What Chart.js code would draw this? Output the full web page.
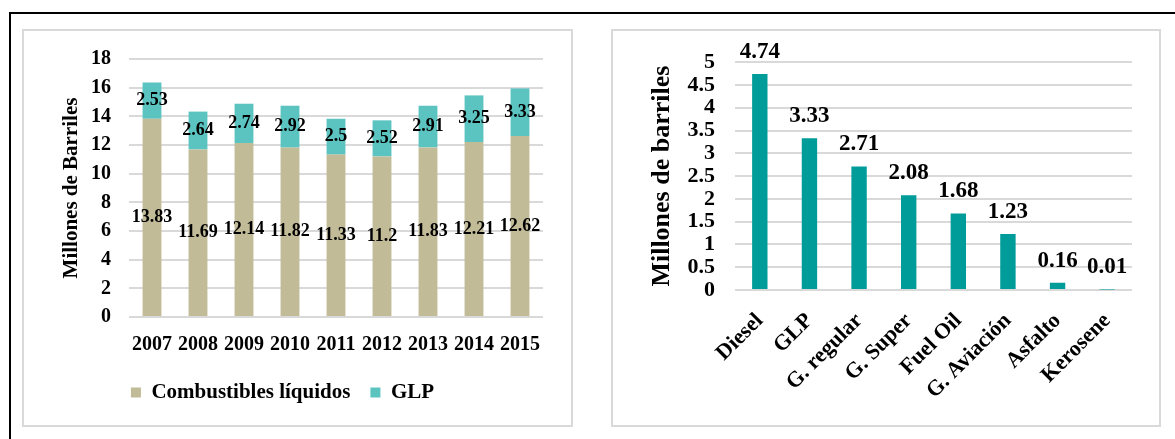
<!DOCTYPE html>
<html lang="es">
<head>
<meta charset="utf-8">
<title>Consumo de combustibles</title>
<script src="https://cdn.jsdelivr.net/npm/chart.js@4.4.1/dist/chart.umd.min.js"></script>
<style>
  html, body { margin: 0; padding: 0; background: #ffffff; }
  body { width: 1175px; height: 439px; position: relative; overflow: hidden; }
  .rule-top { position: absolute; left: 9px; top: 12px; width: 1166px; height: 2px; background: #000; }
  .rule-left { position: absolute; left: 9px; top: 12px; width: 2px; height: 427px; background: #000; }
  .panel { position: absolute; box-sizing: border-box; border: 2px solid #d9d9d9; background: #fff; }
  canvas { position: absolute; }
</style>
</head>
<body>
<div class="rule-top"></div>
<div class="rule-left"></div>
<div class="panel" style="left:22px;top:29px;width:551px;height:398px;"></div>
<div class="panel" style="left:611px;top:29px;width:550px;height:398px;"></div>
<canvas id="anual" width="551" height="398" style="left:22px;top:29px;"></canvas>
<canvas id="productos" width="550" height="398" style="left:611px;top:29px;"></canvas>
<script>
// Producción anual (millones de barriles), apilada por tipo
const years = ['2007', '2008', '2009', '2010', '2011', '2012', '2013', '2014', '2015'];
const liquidos = [13.83, 11.69, 12.14, 11.82, 11.33, 11.2, 11.83, 12.21, 12.62];
const glp = [2.53, 2.64, 2.74, 2.92, 2.5, 2.52, 2.91, 3.25, 3.33];
const yTicksAnual = [0, 2, 4, 6, 8, 10, 12, 14, 16, 18];

// Desglose por producto (millones de barriles)
const productos = ['Diesel', 'GLP', 'G. regular', 'G. Super', 'Fuel Oil', 'G. Aviación', 'Asfalto', 'Kerosene'];
const volumenes = [4.74, 3.33, 2.71, 2.08, 1.68, 1.23, 0.16, 0.01];
const yTicksProductos = [0, 0.5, 1, 1.5, 2, 2.5, 3, 3.5, 4, 4.5, 5];

const SERIF = '"Liberation Serif", "Times New Roman", serif';
const GRID = '#d9d9d9';

Chart.defaults.font.family = SERIF;
Chart.defaults.font.weight = 'bold';
Chart.defaults.color = '#000';

// Writes each bar's value as text, either centred in the segment or above the bar
function valueLabels(id, size, placement) {
  return {
    id: id,
    afterDatasetsDraw(chart) {
      const ctx = chart.ctx;
      ctx.save();
      ctx.font = 'bold ' + size + 'px ' + SERIF;
      ctx.fillStyle = '#000';
      ctx.textAlign = 'center';
      ctx.textBaseline = 'middle';
      chart.data.datasets.forEach((ds, di) => {
        const meta = chart.getDatasetMeta(di);
        meta.data.forEach((bar, i) => {
          const text = String(ds.data[i]);
          const y = placement === 'center' ? (bar.y + bar.base) / 2 : bar.y - 22;
          ctx.fillText(text, bar.x, y);
        });
      });
      ctx.restore();
    }
  };
}

new Chart(document.getElementById('anual'), {
  type: 'bar',
  data: {
    labels: years,
    datasets: [
      { label: 'Combustibles líquidos', data: liquidos, backgroundColor: '#c2bb98',
        categoryPercentage: 1, barPercentage: 0.41 },
      { label: 'GLP', data: glp, backgroundColor: '#5bc4c1',
        categoryPercentage: 1, barPercentage: 0.41 }
    ]
  },
  options: {
    responsive: false,
    animation: false,
    layout: { padding: { left: 0, top: 30, right: 30, bottom: 14 } },
    plugins: {
      tooltip: { enabled: false },
      legend: {
        position: 'bottom',
        labels: { boxWidth: 10, boxHeight: 10, padding: 20,
                  font: { size: 21, weight: 'bold', family: SERIF }, color: '#000' }
      }
    },
    scales: {
      x: {
        stacked: true,
        grid: { display: false },
        border: { display: false },
        ticks: { padding: 8, font: { size: 20, weight: 'bold' }, color: '#000', maxRotation: 0 },
        afterFit(s) { s.height = 45; }
      },
      y: {
        stacked: true,
        min: 0, max: 18,
        afterBuildTicks(s) { s.ticks = yTicksAnual.map(v => ({ value: v })); },
        grid: { color: GRID, lineWidth: 2, drawTicks: false },
        border: { display: false },
        ticks: { padding: 18, autoSkip: false, font: { size: 20, weight: 'bold' }, color: '#000',
                 callback: v => String(v) },
        title: { display: true, text: 'Millones de Barriles', color: '#000',
                 font: { size: 21, weight: 'bold', family: SERIF }, padding: { top: 37, bottom: 0 } },
        afterFit(s) { s.width = 107; }
      }
    }
  },
  plugins: [valueLabels('etiquetasAnual', 18, 'center')]
});

new Chart(document.getElementById('productos'), {
  type: 'bar',
  data: {
    labels: productos,
    datasets: [
      { label: 'Millones de barriles', data: volumenes, backgroundColor: '#009c99',
        categoryPercentage: 1, barPercentage: 0.31 }
    ]
  },
  options: {
    responsive: false,
    animation: false,
    layout: { padding: { left: 0, top: 30, right: 29, bottom: 0 } },
    plugins: {
      tooltip: { enabled: false },
      legend: { display: false }
    },
    scales: {
      x: {
        grid: { display: false },
        border: { display: false },
        ticks: { padding: 10, font: { size: 22, weight: 'bold' }, color: '#000',
                 minRotation: 45, maxRotation: 45, autoSkip: false },
        afterFit(s) { s.height = 137; }
      },
      y: {
        min: 0, max: 5,
        afterBuildTicks(s) { s.ticks = yTicksProductos.map(v => ({ value: v })); },
        grid: { color: GRID, lineWidth: 2, drawTicks: false },
        border: { display: false },
        ticks: { padding: 20, autoSkip: false, font: { size: 22, weight: 'bold' }, color: '#000',
                 callback: v => String(v) },
        title: { display: true, text: 'Millones de barriles', color: '#000',
                 font: { size: 26, weight: 'bold', family: SERIF }, padding: { top: 36, bottom: 0 } },
        afterFit(s) { s.width = 124; }
      }
    }
  },
  plugins: [valueLabels('etiquetasProductos', 23, 'above')]
});
</script>
</body>
</html>
